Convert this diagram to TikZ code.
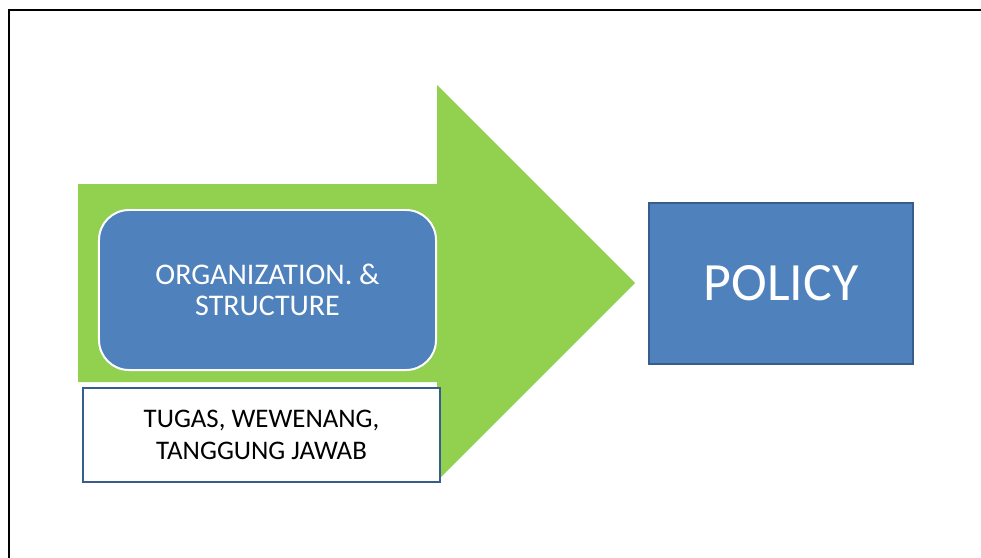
\documentclass[tikz,border=0pt]{standalone}
\usepackage{fontspec}
\setmainfont{Carlito}
\definecolor{arrowgreen}{HTML}{92D050}
\definecolor{boxblue}{HTML}{4F81BD}
\definecolor{edgeblue}{HTML}{385D8A}
\begin{document}
\begin{tikzpicture}[x=0.03cm, y=-0.03cm,
  bluebox/.style={draw=edgeblue, line width=1.6pt, fill=boxblue, text=white, align=center, inner sep=0pt},
  roundbox/.style={draw=white, line width=1.7pt, fill=boxblue, rounded corners=0.9cm, text=white, align=center, inner sep=0pt, font=\fontsize{25.6}{26}\selectfont},
  whitebox/.style={draw=edgeblue, line width=1.6pt, fill=white, text=black, align=center, inner sep=0pt, font=\fontsize{22.9}{27.5}\selectfont}]
\useasboundingbox (0,0) rectangle (981,557);
\clip (0,0) rectangle (981,557);
\draw [line width=1.8pt] (9,10) rectangle (1000,580);
\coordinate (A) at (78,184);
\coordinate (S) at (437,184);
\coordinate (H) at (437,85);
\coordinate (T) at (635,283);
\coordinate (L) at (437,481);
\coordinate (R) at (437,382);
\coordinate (B) at (78,382);
\fill [arrowgreen] (A) -- (S) -- (H) -- (T) -- (L) -- (R) -- (B) -- cycle;
\node [roundbox, minimum width=10.11cm, minimum height=4.8cm] (org) at (267.5,290) {ORGANIZATION. \&\\STRUCTURE};
\node [whitebox, minimum width=10.71cm, minimum height=2.82cm] (tugas) at (261.5,435) {TUGAS, WEWENANG,\\TANGGUNG JAWAB};
\node [bluebox, minimum width=7.92cm, minimum height=4.83cm, font=\fontsize{46}{50}\selectfont] (policy) at (781,283.5) {POLICY};
\end{tikzpicture}
\end{document}
